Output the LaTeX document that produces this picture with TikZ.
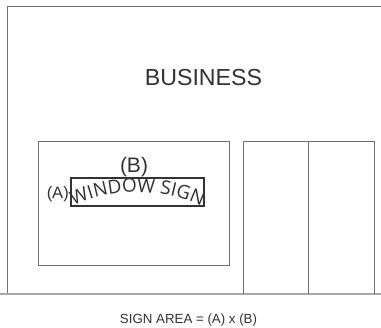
\documentclass[tikz,border=0pt]{standalone}
\usepackage{fontspec}
\setmainfont{Liberation Sans}
\newfontfamily\signfont{Open Sans}
\usetikzlibrary{positioning}
\usetikzlibrary{decorations.text}
\definecolor{wallgray}{HTML}{707070}
\definecolor{inkgray}{HTML}{333333}

\begin{document}
\begin{tikzpicture}[x=1pt, y=-1pt]
    \tikzset{
        wall/.style={draw=wallgray, line width=0.9pt},
        ground/.style={draw=wallgray!60, line width=1.2pt},
        signbox/.style={draw=inkgray, line width=1.1pt, minimum width=133pt, minimum height=28pt, inner sep=0pt},
        texto/.style={text=inkgray, inner sep=0pt}
    }
    \useasboundingbox (0,0) rectangle (381,328);
    \fill[white] (0,0) rectangle (381,328);

    %
    % Building outline
    %
    \draw[wall] (381,6) -- (7,6) -- (7,294);
    \draw[ground] (0,294) -- (381,294);

    %
    % Window and sign
    %
    \draw[wall] (38.5,141) rectangle (229,265);
    \node[signbox] (sign) at (137.5,192) {};
    \node[texto, font=\fontsize{21}{21}\selectfont] (signb) at (134,167) {(B)};
    \node[texto, font=\fontsize{16.5}{16.5}\selectfont, left=1.5pt of sign.west, yshift=-2.5pt] (signa) {(A)};
    \path[decorate, decoration={text along path, text align=center,
        text={|\signfont\fontsize{19}{19}\selectfont\color{inkgray}|WINDOW SIGN}}]
        (70,208) .. controls (110,187) and (165,187) .. (205,208);

    %
    % Doors
    %
    \draw[wall] (243.5,294) -- (243.5,141) -- (374.5,141) -- (374.5,294);
    \draw[wall] (308.5,141) -- (308.5,294);

    %
    % Titles
    %
    \node[texto, font=\fontsize{23.2}{23.2}\selectfont] (business) at (203.5,78) {BUSINESS};
    \node[texto, font=\fontsize{13.3}{13.3}\selectfont] (formula) at (188.5,320) {SIGN AREA = (A) x (B)};
\end{tikzpicture}
\end{document}
